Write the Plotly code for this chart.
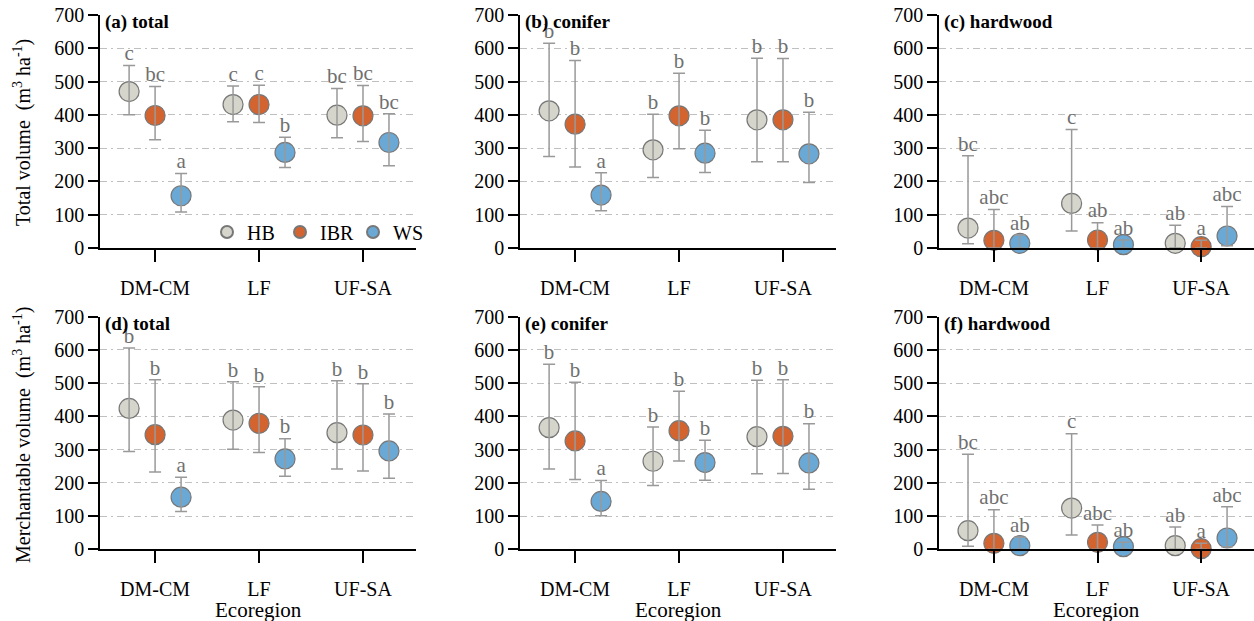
import numpy as np
import plotly.graph_objects as go

categories = ["DM-CM", "LF", "UF-SA"]
groups = ["HB", "IBR", "WS"]
group_colors = {"HB": "#d5d5cb", "IBR": "#d4642f", "WS": "#6aa8d5"}
group_offsets = {"HB": -0.25, "IBR": 0.0, "WS": 0.25}

# ---- (a) total volume, total ----
a_mean = {"HB": [470, 431, 399], "IBR": [398, 431, 397], "WS": [157, 287, 317]}
a_upper = {"HB": [548, 487, 479], "IBR": [485, 489, 488], "WS": [224, 333, 403]}
a_lower = {"HB": [400, 379, 331], "IBR": [325, 377, 320], "WS": [108, 242, 247]}
a_letters = {"HB": ["c", "c", "bc"], "IBR": ["bc", "c", "bc"], "WS": ["a", "b", "bc"]}

# ---- (b) total volume, conifer ----
b_mean = {"HB": [412, 295, 385], "IBR": [372, 397, 385], "WS": [159, 285, 283]}
b_upper = {"HB": [615, 402, 570], "IBR": [563, 525, 569], "WS": [226, 354, 408]}
b_lower = {"HB": [275, 212, 259], "IBR": [243, 298, 259], "WS": [112, 227, 197]}
b_letters = {"HB": ["b", "b", "b"], "IBR": ["b", "b", "b"], "WS": ["a", "b", "b"]}

# ---- (c) total volume, hardwood ----
c_mean = {"HB": [60, 134, 14], "IBR": [23, 24, 4], "WS": [14, 10, 36]}
c_upper = {"HB": [277, 356, 68], "IBR": [116, 76, 23], "WS": [39, 24, 125]}
c_lower = {"HB": [13, 51, 0], "IBR": [0, 0, 0], "WS": [0, 0, 7]}
c_letters = {"HB": ["bc", "c", "ab"], "IBR": ["abc", "ab", "a"], "WS": ["ab", "ab", "abc"]}

# ---- (d) merchantable volume, total ----
d_mean = {"HB": [424, 389, 351], "IBR": [345, 379, 344], "WS": [157, 272, 296]}
d_upper = {"HB": [606, 504, 507], "IBR": [510, 489, 498], "WS": [217, 333, 407]}
d_lower = {"HB": [294, 301, 242], "IBR": [233, 291, 236], "WS": [114, 220, 214]}
d_letters = {"HB": ["b", "b", "b"], "IBR": ["b", "b", "b"], "WS": ["a", "b", "b"]}

# ---- (e) merchantable volume, conifer ----
e_mean = {"HB": [366, 265, 339], "IBR": [326, 357, 340], "WS": [144, 261, 260]}
e_upper = {"HB": [557, 368, 509], "IBR": [503, 476, 510], "WS": [207, 328, 378]}
e_lower = {"HB": [242, 192, 227], "IBR": [210, 266, 228], "WS": [101, 208, 181]}
e_letters = {"HB": ["b", "b", "b"], "IBR": ["b", "b", "b"], "WS": ["a", "b", "b"]}

# ---- (f) merchantable volume, hardwood ----
f_mean = {"HB": [56, 124, 11], "IBR": [18, 21, 2], "WS": [11, 8, 34]}
f_upper = {"HB": [286, 348, 67], "IBR": [119, 73, 18], "WS": [36, 21, 128]}
f_lower = {"HB": [9, 43, 0], "IBR": [0, 0, 0], "WS": [0, 0, 8]}
f_letters = {"HB": ["bc", "c", "ab"], "IBR": ["abc", "abc", "a"], "WS": ["ab", "ab", "abc"]}

panel_titles = ["(a) total", "(b) conifer", "(c) hardwood",
                "(d) total", "(e) conifer", "(f) hardwood"]
panels = [(a_mean, a_upper, a_lower, a_letters),
          (b_mean, b_upper, b_lower, b_letters),
          (c_mean, c_upper, c_lower, c_letters),
          (d_mean, d_upper, d_lower, d_letters),
          (e_mean, e_upper, e_lower, e_letters),
          (f_mean, f_upper, f_lower, f_letters)]

W, H = 1254, 621
FONT = "Liberation Serif"
x_domains = [[100 / W, 416 / W], [520 / W, 836 / W], [939 / W, 1.0]]
y_domains = [[1 - 248 / H, 1 - 15 / H], [1 - 549.3 / H, 1 - 316.7 / H]]

fig = go.Figure()
layout = dict(
    width=W, height=H,
    margin=dict(l=0, r=0, t=0, b=0, autoexpand=False),
    plot_bgcolor="white", paper_bgcolor="white",
    font=dict(family=FONT, size=19, color="black"),
    showlegend=True,
    legend=dict(orientation="h", x=426 / W, xanchor="right",
                y=1 - 232 / H, yanchor="middle",
                bgcolor="rgba(0,0,0,0)", font=dict(size=20, family=FONT),
                itemsizing="constant", entrywidth=28, tracegroupgap=0),
)
annotations = []

for p, (mean, upper, lower, letters) in enumerate(panels):
    row, col = divmod(p, 3)
    idx = p + 1
    xa = "x" if idx == 1 else f"x{idx}"
    ya = "y" if idx == 1 else f"y{idx}"
    layout["xaxis" if idx == 1 else f"xaxis{idx}"] = dict(
        domain=x_domains[col], anchor=ya, range=[-0.53, 2.51],
        tickvals=[0, 1, 2], ticktext=categories, automargin=False,
        showline=True, linecolor="black", linewidth=1.5,
        ticks="outside", ticklen=12, tickwidth=1.5, tickcolor="black",
        showgrid=False, zeroline=False, ticklabelstandoff=9,
        tickfont=dict(size=20, family=FONT),
    )
    layout["yaxis" if idx == 1 else f"yaxis{idx}"] = dict(
        domain=y_domains[row], anchor=xa, range=[0, 700],
        tickvals=[0, 100, 200, 300, 400, 500, 600, 700], automargin=False,
        showline=True, linecolor="black", linewidth=1.5,
        ticks="outside", ticklen=10, tickwidth=1.5, tickcolor="black",
        showgrid=True, gridcolor="#c0c0c0", gridwidth=1,
        griddash="7px,4px,2px,4px", zeroline=False,
        tickfont=dict(size=20, family=FONT),
    )
    for g in groups:
        xs = np.arange(len(categories)) + group_offsets[g]
        m = np.array(mean[g], dtype=float)
        up = np.array(upper[g], dtype=float)
        lo = np.array(lower[g], dtype=float)
        fig.add_trace(go.Scatter(
            x=xs, y=m, mode="markers", xaxis=xa, yaxis=ya,
            name=g, legendgroup=g, showlegend=(p == 0),
            marker=dict(size=20, color=group_colors[g],
                        line=dict(color="#777777", width=1.2)),
            cliponaxis=False,
        ))
        fig.add_trace(go.Scatter(
            x=xs, y=m, mode="markers", xaxis=xa, yaxis=ya,
            showlegend=False, hoverinfo="skip",
            marker=dict(size=1, opacity=0),
            error_y=dict(type="data", symmetric=False,
                         array=up - m, arrayminus=m - lo,
                         color="#999999", thickness=1.5, width=6),
            cliponaxis=False,
        ))
        fig.add_trace(go.Scatter(
            x=xs, y=up, mode="text", xaxis=xa, yaxis=ya,
            text=letters[g], textposition="top center",
            textfont=dict(size=21, family=FONT, color="#707070"),
            showlegend=False, hoverinfo="skip", cliponaxis=False,
        ))
    annotations.append(dict(
        text="<b>" + panel_titles[p] + "</b>",
        xref=f"{xa} domain", yref=f"{ya} domain",
        x=0, y=1, xanchor="left", yanchor="top", xshift=3, yshift=6,
        showarrow=False, font=dict(size=19, family=FONT, color="black"),
    ))
    if row == 1:
        annotations.append(dict(
            text="Ecoregion", xref=f"{xa} domain", yref="paper",
            x=0.5, y=1 - 610 / H, xanchor="center", yanchor="middle",
            showarrow=False, font=dict(size=21, family=FONT, color="black"),
        ))

annotations.append(dict(
    text="Total volume  (m<sup>3</sup> ha<sup>-1</sup>)",
    xref="paper", yref="paper", x=22 / W, y=1 - 133 / H,
    xanchor="center", yanchor="middle", textangle=-90, showarrow=False,
    font=dict(size=20, family=FONT, color="black"),
))
annotations.append(dict(
    text="Merchantable volume  (m<sup>3</sup> ha<sup>-1</sup>)",
    xref="paper", yref="paper", x=22 / W, y=1 - 435 / H,
    xanchor="center", yanchor="middle", textangle=-90, showarrow=False,
    font=dict(size=20, family=FONT, color="black"),
))
layout["annotations"] = annotations
fig.update_layout(**layout)
fig.write_html("out.html")
